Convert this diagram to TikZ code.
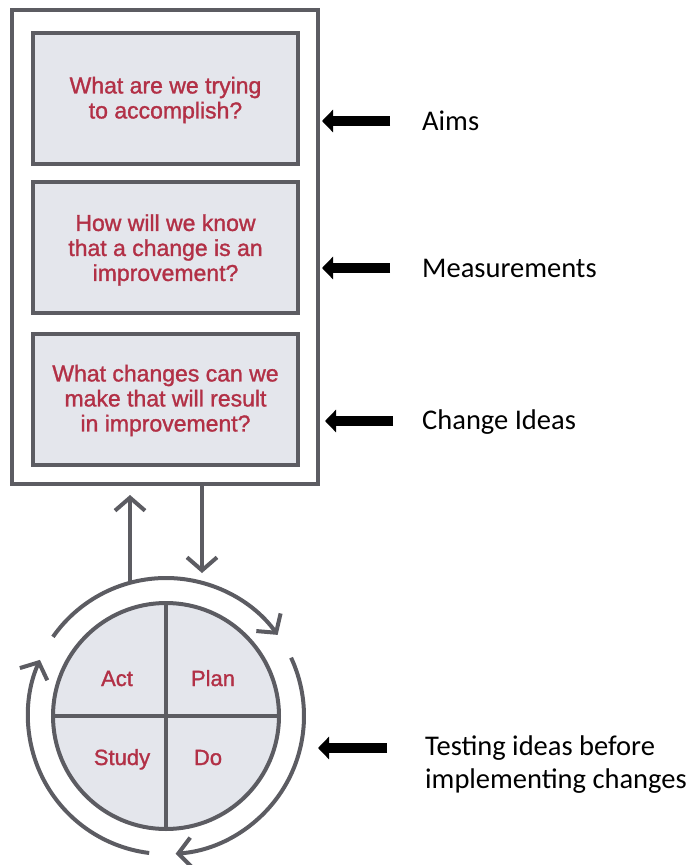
\documentclass[tikz,border=0pt]{standalone}
\usepackage{fontspec}
\setmainfont{Liberation Sans}
\newfontfamily\qfont{Liberation Sans}[FakeBold=1.3]
\newfontfamily\lblfont{Carlito}
\usetikzlibrary{arrows.meta}
\definecolor{qred}{RGB}{178,48,70}
\definecolor{lgray}{RGB}{92,92,98}
\definecolor{qfill}{RGB}{228,230,236}
\tikzset{
  qbox/.style={draw=lgray, line width=4pt, fill=qfill, minimum width=265pt, minimum height=131pt,
    align=center, text=qred, font=\qfont\fontsize{23}{25}\selectfont, inner sep=0pt},
  qtext/.style={align=center, text=qred, font=\qfont\fontsize{23}{25}\selectfont, inner sep=0pt},
  pdtext/.style={text=qred, font=\qfont\fontsize{22}{24}\selectfont, inner sep=0pt, anchor=base},
  lbl/.style={font=\lblfont\fontsize{28.5}{33}\selectfont, anchor=west, align=left, inner sep=0pt},
  blk/.style={line width=10pt, draw=black, -{Triangle[length=11pt,width=22pt]}},
  garr/.style={draw=lgray, line width=4pt, -{Straight Barb[length=13pt,width=30pt]}},
  gline/.style={draw=lgray, line width=4pt}
}
\begin{document}
\begin{tikzpicture}[x=1pt,y=1pt]
\useasboundingbox (0,0) rectangle (698,-865);
% outer frame
\node[draw=lgray, line width=3.5pt, minimum width=306pt, minimum height=474pt, inner sep=0pt] (outer) at (165,-247) {};
% question boxes
\node[qbox] (q1) at (165.5,-98) {};
\node[qbox] (q2) at (165.5,-247.5) {};
\node[qbox] (q3) at (165.5,-399) {};
\node[qtext] (t1) at ([yshift=-2pt]q1.center) {What are we trying\\to accomplish?};
\node[qtext] (t2) at ([yshift=-2.5pt]q2.center) {How will we know\\that a change is an\\improvement?};
\node[qtext] (t3) at ([yshift=-1.5pt]q3.center) {What changes can we\\make that will result\\in improvement?};
% PDCA circle
\node[circle, draw=lgray, line width=4pt, fill=qfill, minimum size=226pt, inner sep=0pt, outer sep=0pt] (pdca) at (166,-716) {};
\draw[gline] (pdca.north) -- (pdca.south);
\draw[gline] (pdca.west) -- (pdca.east);
\node[pdtext] (act) at (117,-686) {Act};
\node[pdtext] (plan) at (213,-686) {Plan};
\node[pdtext] (study) at (122,-765) {Study};
\node[pdtext] (do) at (208,-765) {Do};
% cycle arcs
\draw[garr] ([shift={(145:138pt)}]pdca.center) arc[start angle=145, end angle=36, radius=138pt];
\draw[garr] ([shift={(25:138pt)}]pdca.center) arc[start angle=25, end angle=-86, radius=138pt];
\draw[garr] ([shift={(263:138pt)}]pdca.center) arc[start angle=263, end angle=156, radius=138pt];
% up/down arrows between frame and cycle
\coordinate (upstart) at (130,-583);
\coordinate (uptip) at (130,-495);
\coordinate (dnstart) at ([xshift=37pt]outer.south);
\coordinate (dntip) at (202,-573);
\draw[garr] (upstart) -- (uptip);
\draw[garr] (dnstart) -- (dntip);
% labels
\node[lbl] (aims) at (422,-121) {Aims};
\node[lbl] (meas) at (422,-268) {Measurements};
\node[lbl] (chg) at (422,-422) {Change Ideas};
\node[lbl] (test) at (425,-765) {Testing ideas before\\implementing changes};
\coordinate (aimstip) at (322,-121);
\coordinate (meastip) at (322,-268);
\coordinate (chgtip) at (325,-421);
\coordinate (chgtail) at (393,-421);
\coordinate (testtip) at (318,-748);
\coordinate (testtail) at (387,-748);
\draw[blk] ([xshift=-32pt]aims.west) -- (aimstip);
\draw[blk] ([xshift=-32pt]meas.west) -- (meastip);
\draw[blk] (chgtail) -- (chgtip);
\draw[blk] (testtail) -- (testtip);
\end{tikzpicture}
\end{document}
